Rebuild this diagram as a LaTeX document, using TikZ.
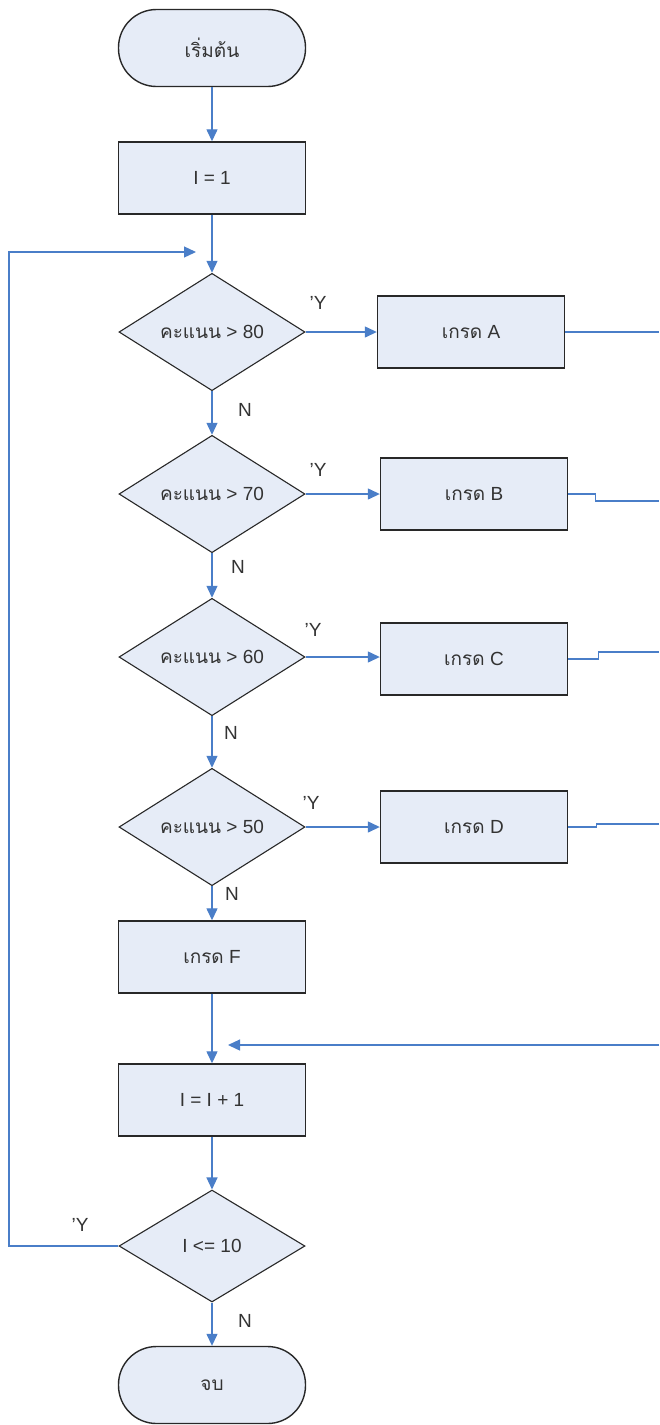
\documentclass[tikz,border=0pt]{standalone}
\usepackage{fontspec}
\setmainfont{Liberation Sans}
\newfontfamily\thaifont[Script=Thai]{Loma}
\usetikzlibrary{shapes.geometric,arrows.meta}

\definecolor{boxfill}{RGB}{230,236,247}
\definecolor{flowblue}{RGB}{74,126,200}
\definecolor{edgegray}{RGB}{40,40,40}

\begin{document}
\begin{tikzpicture}[x=1pt,y=-1pt,
		txt/.style={font=\fontsize{19}{23}\selectfont, text=black!80},
		term/.style={txt, draw=edgegray, line width=1.4pt, fill=boxfill, rectangle, rounded corners=38pt, minimum width=187pt, minimum height=77pt},
		proc/.style={txt, draw=edgegray, line width=1.4pt, fill=boxfill, rectangle, minimum width=187pt, minimum height=72pt},
		decis/.style={txt, draw=edgegray, line width=1.1pt, fill=boxfill, diamond, inner sep=0pt, minimum width=186pt, minimum height=112pt},
		line/.style={draw=flowblue, line width=1.3pt},
		flow/.style={line, -{Triangle[length=12pt,width=11pt]}},
		yn/.style={txt}]

		\useasboundingbox (0,0) rectangle (659,1425);

		% main column
		\node[term] (start) at (212,48) {\thaifont เริ่มต้น};
		\node[proc] (init) at (212,178) {I = 1};
		\node[decis] (c80) at (212,332) {{\thaifont คะแนน} > 80};
		\node[decis] (c70) at (212,494) {{\thaifont คะแนน} > 70};
		\node[decis] (c60) at (212,657) {{\thaifont คะแนน} > 60};
		\node[decis] (c50) at (212,827) {{\thaifont คะแนน} > 50};
		\node[proc] (gf) at (212,957) {{\thaifont เกรด} F};
		\node[proc] (inc) at (212,1100) {I = I + 1};
		\node[decis] (chk) at (212,1246) {I <= 10};
		\node[term] (stop) at (212,1385) {\thaifont จบ};

		% grade boxes
		\node[proc] (ga) at (471,332) {{\thaifont เกรด} A};
		\node[proc] (gb) at (474,494) {{\thaifont เกรด} B};
		\node[proc] (gc) at (474,659) {{\thaifont เกรด} C};
		\node[proc] (gd) at (474,827) {{\thaifont เกรด} D};

		% free ends
		\coordinate (ra) at (659,332);
		\coordinate (rb) at (659,501);
		\coordinate (rc) at (659,652);
		\coordinate (rd) at (659,824);
		\coordinate (rin) at (659,1045);
		\coordinate (retin) at (228,1045);
		\coordinate (loopin) at (196,252);

		\draw[flow] (start) -- (init);
		\draw[flow] (init) -- (c80);
		\draw[flow] (c80) -- (c70);
		\draw[flow] (c70) -- (c60);
		\draw[flow] (c60) -- (c50);
		\draw[flow] (c50) -- (gf);
		\draw[flow] (gf) -- (inc);
		\draw[flow] (inc) -- (chk);
		\draw[flow] (chk) -- (stop);

		\draw[flow] (c80.east) -- (ga.west);
		\draw[flow] (c70.east) -- (gb.west);
		\draw[flow] (c60.east) -- (gc.west |- c60.east);
		\draw[flow] (c50.east) -- (gd.west);

		\draw[line] (ga.east) -- (ra);
		\draw[line] (gb.east) -- ++(27,0) |- (rb);
		\draw[line] (gc.east) -- ++(30,0) |- (rc);
		\draw[line] (gd.east) -- ++(28,0) |- (rd);
		\draw[flow] (rin) -- (retin);
		\draw[flow] (chk.west) -- (9,1246) |- (loopin);

		% labels
		\node[yn] (ya) at (318,303) {'Y};
		\node[yn] (yb) at (318,470) {'Y};
		\node[yn] (yc) at (313,630) {'Y};
		\node[yn] (yd) at (311,803) {'Y};
		\node[yn] (ye) at (80,1225) {'Y};
		\node[yn] (na) at (245,410) {N};
		\node[yn] (nb) at (238,567) {N};
		\node[yn] (nc) at (231,733) {N};
		\node[yn] (nd) at (232,894) {N};
		\node[yn] (ne) at (245,1321) {N};
	\end{tikzpicture}
\end{document}
